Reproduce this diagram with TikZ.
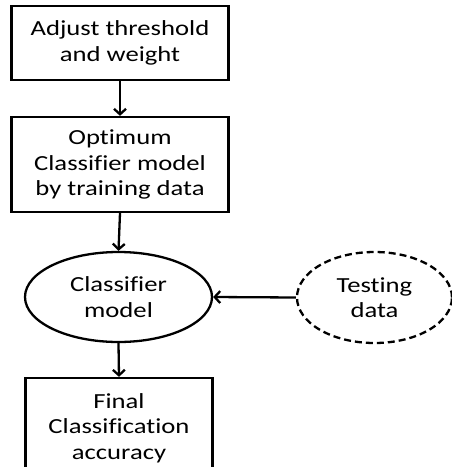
\documentclass[tikz,border=0pt]{standalone}
\usepackage{fontspec}
\setmainfont[FakeStretch=1.24, Ligatures={NoCommon}]{Carlito}
\usetikzlibrary{arrows.meta,shapes.geometric}
\tikzset{
  base/.style={draw=black, line width=2.3pt, align=center, inner sep=0pt,
    font=\fontsize{21.5}{25.5}\selectfont},
  stepbox/.style={base, rectangle},
  oval/.style={base, ellipse},
  flow/.style={line width=2.3pt, -{Straight Barb[length=5.5pt,width=12pt,line width=2.3pt]}}
}
\begin{document}
\begin{tikzpicture}[x=1pt,y=-1pt]
  \useasboundingbox (0,0) rectangle (452,467);
  \clip (0,0) rectangle (452,467);
  \node[stepbox, minimum width=217pt, minimum height=74pt] (adj) at (120,43)
    {Adjust threshold\\and weight};
  \node[stepbox, minimum width=217pt, minimum height=95pt] (opt) at (120,164.5)
    {Optimum\\Classifier model\\by training data};
  \node[oval, minimum width=187pt, minimum height=90pt] (cls) at (118.5,297)
    {Classifier\\model};
  \node[oval, dashed, dash pattern=on 7pt off 4pt, minimum width=155pt, minimum height=91pt] (test) at (374.5,297.5)
    {Testing\\data};
  \node[stepbox, minimum width=187pt, minimum height=100pt] (acc) at (119,428)
    {Final\\Classification\\accuracy};
  \draw[flow] (adj.south) -- (opt.north);
  \draw[flow] (opt.south) -- (cls.north);
  \draw[flow] (test.west) -- (cls.east);
  \draw[flow] (cls.south) -- (acc.north);
\end{tikzpicture}
\end{document}
